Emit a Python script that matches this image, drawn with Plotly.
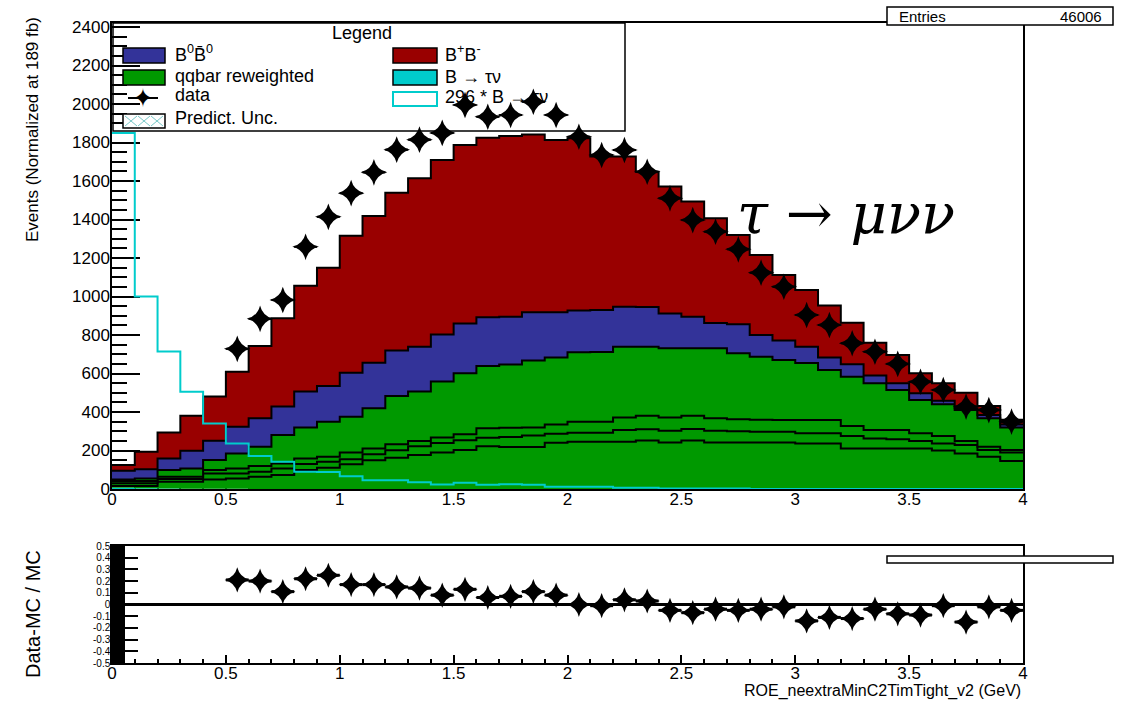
import numpy as np
import plotly.graph_objects as go

W, H = 1122, 701

# ---------------- data ----------------
BIN_EDGES = np.linspace(0.0, 4.0, 41)          # 40 bins of 0.1 GeV
BIN_CENTERS = 0.5 * (BIN_EDGES[:-1] + BIN_EDGES[1:])

# cumulative stack levels (top of each stacked component)
bpbm_top = [125, 194, 294, 381, 480, 609, 743, 887, 1056, 1150,
            1316, 1418, 1539, 1614, 1709, 1787, 1825, 1834, 1842, 1813,
            1822, 1727, 1727, 1648, 1571, 1493, 1406, 1319, 1216, 1112,
            1034, 953, 864, 760, 696, 601, 549, 500, 431, 360]
b0b0_top = [95, 102, 159, 199, 251, 324, 367, 428, 506, 535,
            604, 656, 719, 739, 803, 860, 892, 895, 918, 918,
            928, 930, 947, 945, 912, 895, 862, 856, 800, 772,
            739, 683, 648, 590, 550, 498, 458, 419, 385, 335]
qqbar_top = [50, 55, 99, 107, 151, 185, 220, 281, 320, 350,
             376, 419, 483, 506, 558, 601, 639, 647, 668, 683,
             710, 712, 739, 739, 731, 731, 731, 705, 687, 670,
             655, 618, 583, 549, 514, 462, 440, 410, 367, 320]
qq_line3 = [42, 42, 64, 64, 99, 107, 120, 133, 159, 168,
            190, 211, 233, 250, 268, 285, 315, 318, 320, 335,
            350, 350, 372, 380, 372, 380, 368, 362, 360, 358,
            358, 358, 327, 306, 306, 290, 275, 250, 220, 203]
qq_line2 = [30, 30, 52, 52, 81, 81, 90, 107, 130, 142,
            155, 180, 201, 222, 239, 253, 266, 270, 278, 287,
            292, 292, 306, 310, 303, 312, 303, 300, 298, 298,
            290, 289, 275, 263, 258, 250, 237, 229, 203, 189]
qq_line1 = [15, 15, 38, 38, 50, 55, 64, 73, 99, 110,
            128, 150, 162, 177, 190, 203, 222, 218, 218, 240,
            245, 245, 246, 252, 241, 252, 241, 241, 241, 241,
            237, 237, 211, 211, 211, 211, 200, 185, 168, 145]
btaunu = [6.3, 3.4, 2.4, 1.7, 1.1, 0.8, 0.6, 0.5, 0.3, 0.3,
          0.2, 0.15, 0.15, 0.1, 0.1, 0.1, 0.1, 0.1, 0.1, 0.04,
          0.04, 0.04, 0.02, 0.02, 0.01, 0.01, 0.01, 0.01, 0, 0,
          0, 0, 0, 0, 0, 0, 0, 0, 0, 0]
btaunu_x296 = [1850, 1000, 715, 505, 340, 236, 171, 142, 90, 88,
               66, 45, 45, 35, 23, 33, 22, 25, 22, 12,
               12, 12, 6, 6, 3, 3, 3, 3, 0, 0,
               0, 0, 0, 0, 0, 0, 0, 0, 0, 0]
data = [None, None, None, None, None, 728, 884, 982, 1258, 1414,
        1537, 1645, 1763, 1815, 1850, 1995, 1934, 1943, 2012, 1943,
        1830, 1735, 1761, 1648, 1510, 1397, 1337, 1245, 1124, 1051,
        904, 852, 757, 713, 650, 557, 514, 428, 410, 350]
ratio = [None, None, None, None, None, 0.21, 0.20, 0.11, 0.22, 0.25,
         0.17, 0.17, 0.15, 0.14, 0.08, 0.13, 0.06, 0.07, 0.11, 0.08,
         0.00, -0.01, 0.04, 0.03, -0.05, -0.07, -0.04, -0.05, -0.04, -0.02,
         -0.14, -0.11, -0.12, -0.04, -0.08, -0.09, -0.01, -0.15, -0.02, -0.05]

ratio_ticks = [0.5, 0.4, 0.3, 0.2, 0.1, 0.0, -0.1, -0.2, -0.3, -0.4, -0.5]
ratio_ticktext = ["0.5", "0.4", "0.3", "0.2", "0.1", "0", "-0.1", "-0.2", "-0.3", "-0.4", "-0.5"]

# ---------------- styles ----------------
RED = "rgb(153,0,0)"
BLUE = "rgb(51,51,153)"
GREEN = "rgb(0,153,0)"
CYAN = "rgb(0,204,204)"
FONT = "Liberation Sans, Arial, Helvetica, sans-serif"


def px(x):
    return x / W


def py(y):
    return 1 - y / H


def step(vals):
    return list(BIN_EDGES), list(vals) + [vals[-1]]


fig = go.Figure()

xs, ys = step(btaunu)
fig.add_trace(go.Scatter(x=xs, y=ys, mode="lines", line=dict(shape="hv", width=0, color=CYAN),
                         fill="tozeroy", fillcolor=CYAN, showlegend=False, hoverinfo="skip"))
for vals, fc in [(qq_line1, GREEN), (qq_line2, GREEN), (qq_line3, GREEN),
                 (qqbar_top, GREEN), (b0b0_top, BLUE), (bpbm_top, RED)]:
    xs, ys = step(vals)
    fig.add_trace(go.Scatter(x=xs, y=ys, mode="lines", line=dict(shape="hv", width=2, color="black"),
                             fill="tonexty", fillcolor=fc, showlegend=False, hoverinfo="skip"))

xs, ys = step(btaunu_x296)
fig.add_trace(go.Scatter(x=xs, y=ys, mode="lines", line=dict(shape="hv", width=2, color=CYAN),
                         showlegend=False, hoverinfo="skip"))

fig.add_trace(go.Scatter(x=BIN_CENTERS, y=data, mode="markers",
                         marker=dict(symbol="star-diamond", size=19, color="black"),
                         error_x=dict(type="constant", value=0.05, color="black", thickness=2, width=0),
                         showlegend=False))

fig.add_trace(go.Scatter(x=BIN_CENTERS, y=ratio, mode="markers", xaxis="x2", yaxis="y2",
                         marker=dict(symbol="star-diamond", size=18, color="black"),
                         error_x=dict(type="constant", value=0.05, color="black", thickness=3, width=0),
                         showlegend=False))

axis_common = dict(showline=True, linecolor="black", linewidth=1.5, mirror=True, automargin=False,
                   showgrid=False, zeroline=False, ticks="inside", tickcolor="black",
                   tickwidth=1.5)
TICKFONT = dict(family=FONT, size=17, color="black")

fig.update_layout(
    width=W, height=H, margin=dict(l=0, r=0, t=0, b=0, autoexpand=False),
    paper_bgcolor="white", plot_bgcolor="rgba(0,0,0,0)",
    showlegend=False,
    xaxis=dict(domain=[px(112), px(1023)], anchor="y", range=[0, 4], dtick=0.5, ticklen=14,
               minor=dict(ticks="inside", dtick=0.1, ticklen=7, tickcolor="black", tickwidth=1.5),
               layer="below traces", tickfont=TICKFONT, ticklabelstandoff=-6, **axis_common),
    yaxis=dict(domain=[py(489), py(23)], anchor="x", range=[0, 2421], dtick=200, ticklen=28,
               minor=dict(ticks="inside", dtick=50, ticklen=15, tickcolor="black", tickwidth=1.5),
               layer="below traces", tickfont=TICKFONT, ticklabelstandoff=-3, **axis_common),
    xaxis2=dict(domain=[px(112), px(1023)], anchor="y2", range=[0, 4], dtick=0.5, ticklen=8,
                minor=dict(ticks="inside", dtick=0.1, ticklen=4, tickcolor="black", tickwidth=1.5),
                tickfont=TICKFONT, ticklabelstandoff=-6, **axis_common),
    yaxis2=dict(domain=[py(663), py(546)], anchor="x2", range=[-0.5, 0.5],
                tickvals=ratio_ticks, ticktext=ratio_ticktext, ticklen=26,
                minor=dict(ticks="inside", dtick=0.01, ticklen=13, tickcolor="black", tickwidth=1.5),
                tickfont=dict(family=FONT, size=10, color="black"), ticklabelstandoff=-2, **axis_common),
)

shapes = []
ann = []

# zero line in ratio panel
shapes.append(dict(type="line", xref="x2", yref="y2", x0=0, x1=4, y0=0, y1=0,
                   line=dict(color="black", width=3), layer="above"))

# legend box
shapes.append(dict(type="rect", xref="paper", yref="paper", x0=px(113), x1=px(625), y0=py(131), y1=py(23),
                   fillcolor="white", line=dict(color="black", width=1.5), layer="below"))


def swatch(x0, y0, x1, y1, fill, lc="black", lw=1.5):
    shapes.append(dict(type="rect", xref="paper", yref="paper", x0=px(x0), x1=px(x1), y0=py(y1), y1=py(y0),
                       fillcolor=fill, line=dict(color=lc, width=lw), layer="above"))


def text(x, y, s, size=18, xanchor="left", family=FONT, **kw):
    ann.append(dict(x=px(x), y=py(y), xref="paper", yref="paper", text=s, showarrow=False,
                    xanchor=xanchor, yanchor="middle", font=dict(family=family, size=size, color="black"), **kw))


swatch(123, 48, 165, 63, BLUE)
swatch(123, 70, 165, 85, GREEN)
swatch(123, 114, 165, 128, "white")
for i in range(3):
    x0 = 125 + i * 13
    shapes.append(dict(type="line", xref="paper", yref="paper", x0=px(x0), x1=px(x0 + 12), y0=py(116), y1=py(126),
                       line=dict(color="rgb(120,200,200)", width=1), layer="above"))
    shapes.append(dict(type="line", xref="paper", yref="paper", x0=px(x0), x1=px(x0 + 12), y0=py(126), y1=py(116),
                       line=dict(color="rgb(120,200,200)", width=1), layer="above"))
shapes.append(dict(type="line", xref="paper", yref="paper", x0=px(128), x1=px(158), y0=py(98), y1=py(98),
                   line=dict(color="black", width=2), layer="above"))
text(143, 98, "✦", size=26, xanchor="center", family="DejaVu Sans")
swatch(393, 48, 437, 63, RED)
swatch(393, 70, 437, 85, CYAN)
swatch(393, 92, 437, 106, "white", lc=CYAN, lw=2)

text(362, 33, "Legend")
ann[-1]["xanchor"] = "center"
text(173, 54, "B<sup>0</sup>B\u0304<sup>0</sup>")
text(173, 76, "qqbar reweighted")
text(173, 95, "data")
text(173, 118, "Predict. Unc.")
text(443, 54, "B<sup>+</sup>B<sup>-</sup>")
text(443, 77, "B → τν")
text(443, 97, "296 * B → τν")

# stats box
shapes.append(dict(type="rect", xref="paper", yref="paper", x0=px(887), x1=px(1113), y0=py(25), y1=py(7),
                   fillcolor="white", line=dict(color="black", width=1.5), layer="above"))
text(897, 16, "Entries", size=15)
text(1104, 16, "46006", size=15, xanchor="right")
# empty box in ratio pad
shapes.append(dict(type="rect", xref="paper", yref="paper", x0=px(887), x1=px(1113), y0=py(563), y1=py(556),
                   fillcolor="white", line=dict(color="black", width=1.5), layer="above"))

# axis titles
text(33, 130, "Events (Normalized at 189 fb)", size=17, xanchor="center", textangle=-90)
text(33, 614, "Data-MC / MC", size=20, xanchor="center", textangle=-90)
text(1023, 691, "ROE_neextraMinC2TimTight_v2 (GeV)", size=16, xanchor="right")

# big label
text(846, 214, "<i>τ</i> → <i>μνν</i>", size=56, xanchor="center", family="DejaVu Serif, serif")

fig.update_layout(shapes=shapes, annotations=ann)
fig.write_html("out.html", config={"displayModeBar": False},
               post_script="document.body.style.margin='0';document.body.style.padding='0';"
                           "document.body.style.overflow='hidden';")
